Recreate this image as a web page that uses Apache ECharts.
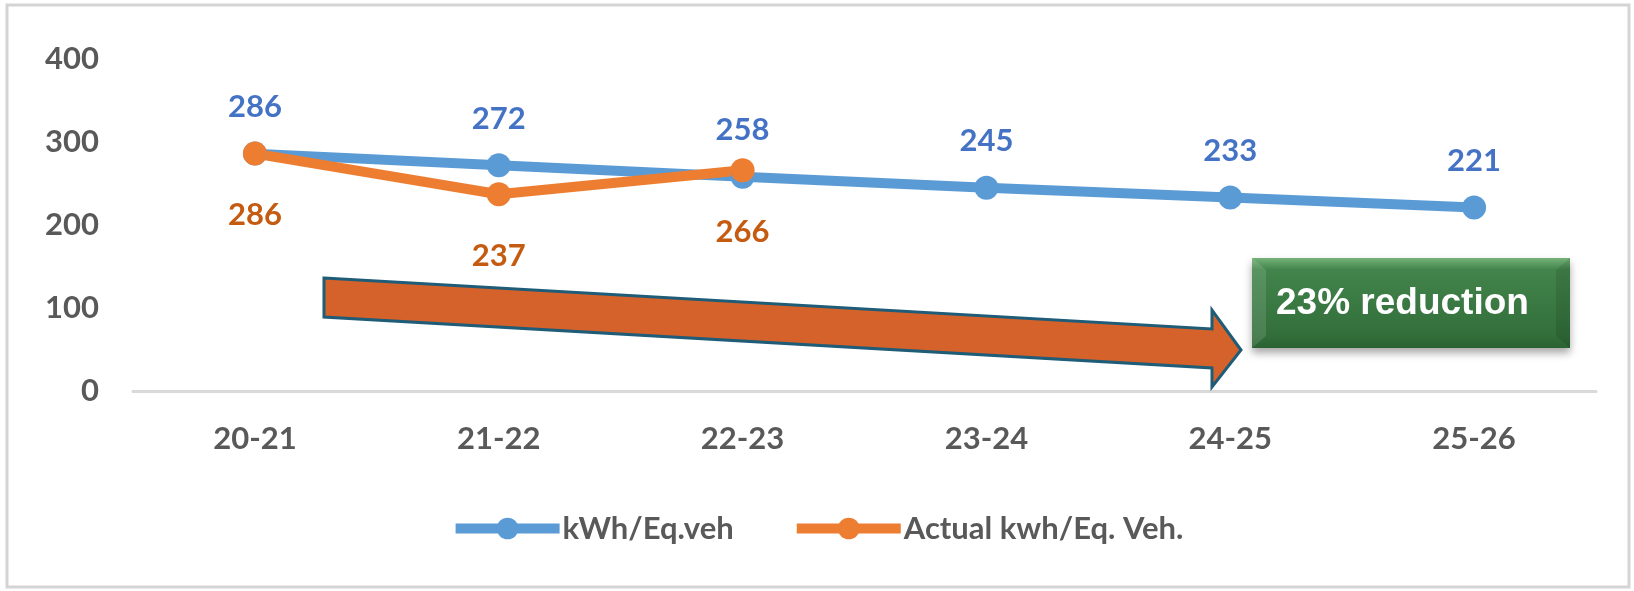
<!DOCTYPE html>
<html lang="en">
<head>
    <meta charset="UTF-8">
    <title>kWh per Eq. vehicle</title>
    <script type="text/javascript" src="https://cdn.jsdelivr.net/npm/echarts@6/dist/echarts.min.js"></script>
    <style>
        html, body { margin: 0; padding: 0; background: #fff; }
    </style>
</head>
<body>
    <div id="main" style="width: 1634px; height: 591px;"></div>
    <script type="text/javascript">

var years = ['20-21', '21-22', '22-23', '23-24', '24-25', '25-26'];
var targetKwh = [286, 272, 258, 245, 233, 221];
var actualKwh = [286, 237, 266];
var yTicks = [0, 100, 200, 300, 400];

var chartDom = document.getElementById('main');
var myChart = echarts.init(chartDom);
var option;

var font = 'Lato, "Liberation Sans", sans-serif';

option = {
    backgroundColor: '#fff',
    animation: false,
    grid: {
        left: 133,
        right: 38,
        top: 59,
        bottom: 200
    },
    legend: {
        bottom: 42,
        left: 'center',
        itemWidth: 104,
        itemHeight: 27,
        itemGap: 58,
        lineStyle: { width: 10 },
        textStyle: {
            fontFamily: font,
            fontSize: 31,
            fontWeight: 'bold',
            color: '#595959',
            padding: [0, 0, 0, -2]
        },
        data: ['kWh/Eq.veh', 'Actual kwh/Eq. Veh.']
    },
    xAxis: {
        type: 'category',
        data: years,
        axisLine: { lineStyle: { color: '#d9d9d9', width: 3 } },
        axisTick: { show: false },
        axisLabel: {
            margin: 32,
            fontFamily: font,
            fontSize: 31,
            fontWeight: 'bold',
            color: '#595959'
        }
    },
    yAxis: {
        type: 'value',
        min: yTicks[0],
        max: yTicks[yTicks.length - 1],
        interval: 100,
        splitLine: { show: false },
        axisLine: { show: false },
        axisTick: { show: false },
        axisLabel: {
            margin: 34,
            fontFamily: font,
            fontSize: 31,
            fontWeight: 'bold',
            color: '#595959'
        }
    },
    series: [
        {
            name: 'kWh/Eq.veh',
            type: 'line',
            data: targetKwh,
            symbol: 'circle',
            symbolSize: 24,
            lineStyle: { color: '#5b9bd5', width: 10 },
            itemStyle: { color: '#5b9bd5' },
            label: {
                show: true,
                position: 'top',
                distance: 19,
                fontFamily: font,
                fontSize: 31,
                fontWeight: 'bold',
                color: '#4472c4'
            }
        },
        {
            name: 'Actual kwh/Eq. Veh.',
            type: 'line',
            data: actualKwh,
            symbol: 'circle',
            symbolSize: 24,
            lineStyle: { color: '#ed7d31', width: 10 },
            itemStyle: { color: '#ed7d31' },
            label: {
                show: true,
                position: 'bottom',
                distance: 34,
                fontFamily: font,
                fontSize: 31,
                fontWeight: 'bold',
                color: '#c55a11'
            }
        }
    ],
    graphic: [
        {
            type: 'rect',
            silent: true,
            shape: { x: 7, y: 5, width: 1622, height: 582 },
            style: { fill: 'none', stroke: '#d4d4d4', lineWidth: 3 }
        },
        {
            // big trend arrow
            type: 'polygon',
            silent: true,
            z: 1,
            shape: {
                points: [
                    [324, 278], [1212, 329], [1212, 310], [1241, 350],
                    [1212, 387], [1212, 368], [324, 317]
                ]
            },
            style: { fill: '#d5622a', stroke: '#1f5c78', lineWidth: 3 }
        },
        {
            type: 'group',
            left: 1252,
            top: 258,
            children: [
                {
                    type: 'rect',
                    shape: { x: 0, y: 0, width: 318, height: 90 },
                    style: {
                        fill: new echarts.graphic.LinearGradient(0, 0, 0, 1, [
                            { offset: 0, color: '#74b278' },
                            { offset: 0.13, color: '#42844b' },
                            { offset: 0.85, color: '#336f3b' },
                            { offset: 1, color: '#2a6232' }
                        ]),
                        shadowBlur: 8,
                        shadowOffsetY: 5,
                        shadowColor: 'rgba(0,0,0,0.35)'
                    }
                },
                {
                    // bevel side strips
                    type: 'polygon',
                    shape: { points: [[0, 0], [14, 12], [14, 78], [0, 90]] },
                    style: { fill: 'rgba(255,255,255,0.12)' }
                },
                {
                    type: 'polygon',
                    shape: { points: [[318, 0], [304, 12], [304, 78], [318, 90]] },
                    style: { fill: 'rgba(0,0,0,0.10)' }
                },
                {
                    type: 'text',
                    x: 24,
                    y: 46,
                    style: {
                        text: '23% reduction',
                        fill: '#ffffff',
                        font: 'bold 37px "Liberation Sans Narrow", "Liberation Sans", sans-serif',
                        verticalAlign: 'middle'
                    }
                }
            ]
        }
    ]
};

option && myChart.setOption(option);
    </script>
</body>
</html>
